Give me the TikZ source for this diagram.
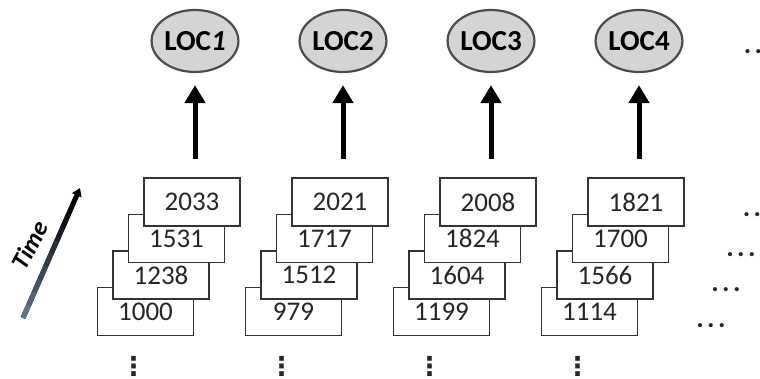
\documentclass[tikz,border=0pt]{standalone}
\usepackage{fontspec}
\setmainfont{Carlito}
\newfontfamily\symfont{DejaVu Sans}
\usetikzlibrary{shapes.geometric}
\usetikzlibrary{arrows.meta}
\usetikzlibrary{calc}
\definecolor{timeblue}{RGB}{95,115,135}
\tikzset{every picture/.style={x=0.5pt,y=-0.5pt}}
\tikzset{recordbox/.style={draw=black!80,fill=white,line width=0.9pt,
  minimum width=48pt,minimum height=24pt,inner sep=0pt,text=black!85,
  font=\fontsize{13.5}{16}\selectfont}}
\tikzset{locnode/.style={ellipse,draw=black!70,line width=1.1pt,fill=black!17,
  minimum width=35pt,minimum height=31pt,inner sep=0pt,
  font=\fontsize{14.5}{16}\selectfont\bfseries}}
\tikzset{uparrow/.style={line width=2.5pt,-{Triangle[width=10pt,length=9pt]},
  shorten <=9pt,shorten >=6pt}}
\tikzset{moredots/.style={inner sep=0pt,text=black!85,
  font=\fontsize{14}{16}\selectfont\bfseries\addfontfeature{LetterSpace=12}}}
\tikzset{coldots/.style={inner sep=0pt,text=black!85,
  font=\fontsize{13}{15}\selectfont\symfont\bfseries}}

\begin{document}
\begin{tikzpicture}
\useasboundingbox (0,0) rectangle (760,379);
% locations on top
\foreach \i/\lab in {1/LOC\textit{1},2/LOC2,3/LOC3,4/LOC4}{
  \node[locnode] (loc\i) at (195+148*\i-148,41) {\lab};
}
% stacks of records, lowest one first
\foreach \i/\a/\b/\c/\d in {1/1000/1238/1531/2033,2/979/1512/1717/2021,
    3/1199/1604/1824/2008,4/1114/1566/1700/1821}{
  \pgfmathsetmacro\cx{192+148*(\i-1)}
  \node[recordbox] (r\i-a) at (\cx-46.5,311.5) {\a};
  \node[recordbox] (r\i-b) at (\cx-31,275) {\b};
  \node[recordbox] (r\i-c) at (\cx-15.5,238.5) {\c};
  \node[recordbox] (r\i-d) at (\cx,202) {\d};
  \node[coldots] (v\i) at ([xshift=-6pt,yshift=-15pt]r\i-a.south) {⋮};
  \draw[uparrow] (r\i-d.north -| loc\i.south) -- (loc\i.south);
}
% more locations / more records
\node[moredots] (e0) at (753,52) {..};
\node[moredots] (e1) at (752,215) {..};
\node[moredots] (e2) at (741,255) {...};
\node[moredots] (e3) at (726,290) {...};
\node[moredots] (e4) at (711,326) {...};
% time axis
\coordinate (tail) at (23,318);
\coordinate (head) at (80,188);
\draw[line width=2.5pt,-{Triangle[width=5pt,length=4pt]}] (tail) -- (head);
\foreach \p in {0,...,7}{
  \pgfmathsetmacro\q{\p*12}
  \draw[line width=2.5pt,black!\q!timeblue] ($(tail)!\p/10!(head)$) -- ($(tail)!\p/10+0.1!(head)$);
}
\node[rotate=62,font=\fontsize{12.5}{14}\selectfont\bfseries\itshape] (time) at (30,245) {Time};
\end{tikzpicture}
\end{document}
